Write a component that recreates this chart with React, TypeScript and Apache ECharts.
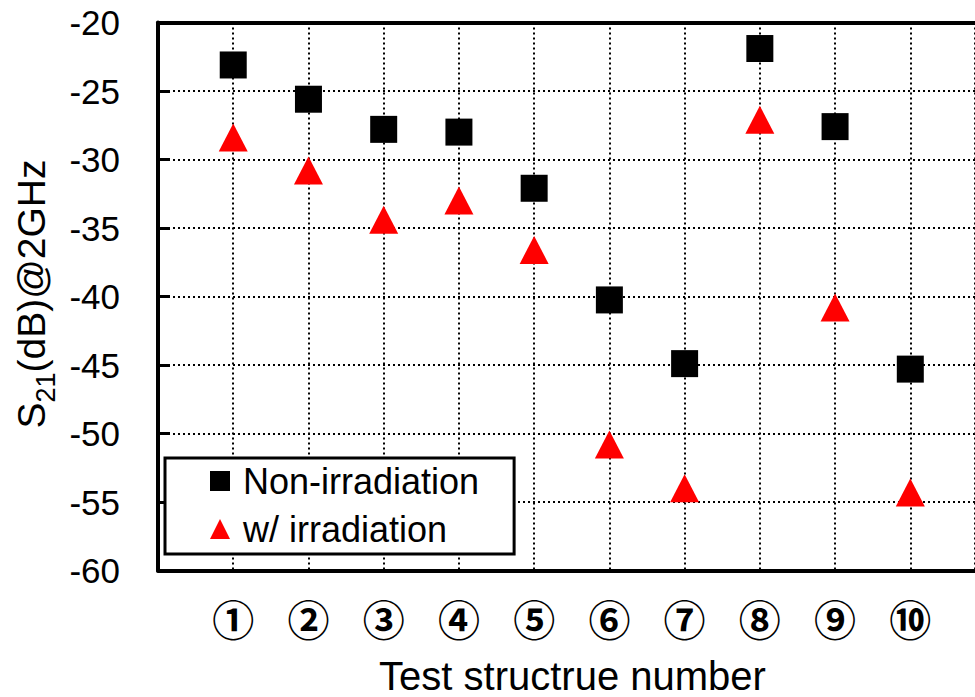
import React, { useEffect, useRef } from "react";
import * as echarts from "echarts";

const structureLabels = ["①", "②", "③", "④", "⑤", "⑥", "⑦", "⑧", "⑨", "⑩"];
const structureNumbers = [1, 2, 3, 4, 5, 6, 7, 8, 9, 10];
const nonIrradiation = [-23.1, -25.6, -27.8, -28.0, -32.1, -40.25, -44.9, -21.9, -27.6, -45.3];
const withIrradiation = [-28.4, -30.8, -34.4, -33.0, -36.6, -50.8, -54.0, -27.1, -40.8, -54.3];
const yTicks = { min: -60, max: -20, interval: 5 };
const xRange = { min: 0, max: 10.86, interval: 1 };

const FONT = "'Liberation Sans', Arial, sans-serif";

export default function App() {
  const ref = useRef<HTMLDivElement>(null);
  useEffect(() => {
    if (!ref.current) return;
    const chart = echarts.init(ref.current, undefined, { renderer: "svg" });
    const dotted = { color: "#000", width: 2, type: [2, 3] as any };
    chart.setOption({
      animation: false,
      backgroundColor: "#fff",
      grid: { left: 158, top: 22.5, right: 0, bottom: 126.5 },
      xAxis: [
        {
          type: "value",
          min: xRange.min,
          max: xRange.max,
          interval: xRange.interval,
          axisLine: { show: true, onZero: false, lineStyle: { color: "#000", width: 4 } },
          axisTick: { show: false },
          splitLine: {
            show: true,
            lineStyle: dotted,
          },
          axisLabel: {
            margin: 26,
            fontFamily: "'Noto Sans CJK JP', sans-serif",
            fontSize: 42,
            fontWeight: "bold",
            color: "#000",
            showMaxLabel: false,
            formatter: (v: number) => {
              const i = structureNumbers.indexOf(v);
              return i >= 0 ? structureLabels[i] : "";
            },
          },
        },
        {
          type: "value",
          position: "top",
          min: xRange.min,
          max: xRange.max,
          interval: xRange.interval,
          axisLine: { show: true, onZero: false, lineStyle: { color: "#000", width: 4 } },
          axisTick: { show: false },
          splitLine: { show: false },
          axisLabel: { show: false },
        },
      ],
      yAxis: {
        type: "value",
        min: yTicks.min,
        max: yTicks.max,
        interval: yTicks.interval,
        axisLine: { show: true, lineStyle: { color: "#000", width: 4 } },
        axisTick: { show: true, inside: true, length: 12, lineStyle: { color: "#000", width: 3 } },
        splitLine: { show: true, lineStyle: dotted },
        axisLabel: { margin: 38, fontFamily: FONT, fontSize: 35, color: "#000" },
      },
      legend: {
        orient: "vertical",
        left: 165,
        top: 458,
        backgroundColor: "#fff",
        borderColor: "#000",
        borderWidth: 3,
        borderRadius: 0,
        padding: [3, 35, 5, 45],
        itemWidth: 20,
        itemHeight: 20,
        itemGap: 8,
        textStyle: { fontFamily: FONT, fontSize: 36, color: "#000", lineHeight: 40, padding: [0, 0, 0, 8] },
        data: [
          { name: "Non-irradiation", icon: "rect" },
          { name: "w/ irradiation", icon: "triangle" },
        ],
        z: 10,
      },
      graphic: [
        {
          type: "text",
          x: 29,
          y: 294,
          rotation: Math.PI / 2,
          style: {
            text: "{m|S}{s|21}{m|(dB)@2GHz}",
            align: "center",
            verticalAlign: "middle",
            fill: "#000",
            rich: {
              m: { fontFamily: FONT, fontSize: 39, fill: "#000", verticalAlign: "bottom", lineHeight: 44 },
              s: { fontFamily: FONT, fontSize: 27, fill: "#000", verticalAlign: "bottom", lineHeight: 44, padding: [0, 0, -8, 0] },
            },
          },
        },
        {
          type: "text",
          x: 572.5,
          y: 696,
          style: {
            text: "Test structrue number",
            align: "center",
            verticalAlign: "bottom",
            fontFamily: FONT,
            fontSize: 40,
            fill: "#000",
          },
        },
      ],
      series: [
        {
          name: "Non-irradiation",
          type: "scatter",
          symbol: "rect",
          symbolSize: 27,
          itemStyle: { color: "#000", opacity: 1 },
          data: structureNumbers.map((x, i) => [x, nonIrradiation[i]]),
          z: 3,
        },
        {
          name: "w/ irradiation",
          type: "scatter",
          symbol: "triangle",
          symbolSize: [29, 28],
          itemStyle: { color: "#ff0000", opacity: 1 },
          data: structureNumbers.map((x, i) => [x, withIrradiation[i]]),
          z: 3,
        },
      ],
    });
    return () => chart.dispose();
  }, []);
  return <div ref={ref} style={{ width: 975, height: 697, position: "fixed", left: 0, top: 0 }} />;
}
